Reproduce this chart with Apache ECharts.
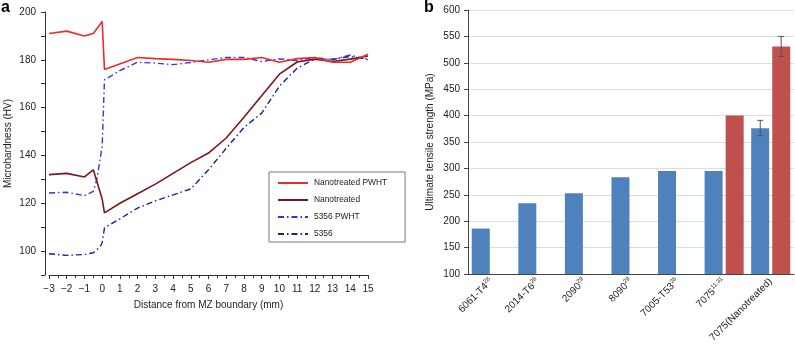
<!DOCTYPE html>
<html><head><meta charset="utf-8">
<script src="https://cdn.jsdelivr.net/npm/echarts@6/dist/echarts.min.js"></script>
<style>html,body{margin:0;padding:0;background:#fff}#c{width:795px;height:345px}</style>
</head><body><div id="c"></div>
<script>
// Panel a data: [x (mm), HV]
const ntPWHT = [[-3,191],[-2,192],[-1,190],[-0.5,191],[0,196],[0.13,176],[2,181],[3,180.5],[4,180.2],[5,179.7],[6,179],[7,180.2],[8,180.2],[9,181],[10,179],[11,180.5],[12,181],[13,179],[14,179],[15,182.3]];
const nt = [[-3,132],[-2,132.5],[-1,131],[-0.5,134],[0,121.8],[0.13,116],[1,120],[2,124],[3,128],[4,132.5],[5,137],[6,141],[7,147.3],[8,156],[9,165],[10,174],[11,179.1],[12,180.3],[13,179.3],[14,180.3],[15,181.6]];
const a5356PWHT = [[-3,124.3],[-2,124.6],[-1,123.2],[-0.5,125],[-0.3,130],[0,143.8],[0.13,171.6],[1,175.5],[2,179],[3,178.6],[4,178],[5,178.9],[6,180],[7,181],[8,181],[9,179.3],[10,180.4],[11,179.7],[12,181],[13,180],[14,182],[15,180]];
const a5356 = [[-3,98.9],[-2,98.2],[-1,98.6],[-0.5,99.3],[-0.1,102],[0,103.5],[0.13,109.7],[1,113.5],[2,118],[3,121],[4,123.5],[5,126],[6,134],[7,143],[8,151.7],[9,157.7],[10,169],[11,176.5],[12,180.3],[13,180.3],[14,181.4],[15,180.3]];
const seriesNamesA = ['Nanotreated PWHT','Nanotreated','5356 PWHT','5356'];

// Panel b data
const alloys = ['6061-T4','2014-T6','2090','8090','7005-T53','7075','7075(Nanotreated)'];
const alloySups = ['28','28','29','29','28','11,31',''];
const utsBlue = [186,234,253,283,295,295,376];
const utsRed = ['-','-','-','-','-',400,531];
const errBlue = [[6,362,391,-1]];
const errRed = [[6,512,550,1]];

const FONT = '"Liberation Sans", Arial, sans-serif';
const chart = echarts.init(document.getElementById('c'));
const dashDot = [6,3,1.5,3];
const errRender = function(params, api){
  const cat = api.value(0), lo = api.value(1), hi = api.value(2), side = api.value(3);
  const bw = api.size([1,0])[0];
  const off = side * bw * 0.225;
  const p1 = api.coord([cat, hi]), p2 = api.coord([cat, lo]);
  const x = p1[0] + off, cw = 3;
  const st = {stroke:'#555', lineWidth:1};
  return {type:'group', children:[
    {type:'line', shape:{x1:x,y1:p1[1],x2:x,y2:p2[1]}, style:st},
    {type:'line', shape:{x1:x-cw,y1:p1[1],x2:x+cw,y2:p1[1]}, style:st},
    {type:'line', shape:{x1:x-cw,y1:p2[1],x2:x+cw,y2:p2[1]}, style:st}
  ]};
};
chart.setOption({
  animation:false,
  textStyle:{fontFamily:FONT},
  graphic:[
    {type:'text', left:1, top:0, style:{text:'a', font:'bold 16px '+FONT, fill:'#000'}},
    {type:'text', left:424, top:0, style:{text:'b', font:'bold 16px '+FONT, fill:'#000'}}
  ],
  legend:{
    data:seriesNamesA, orient:'vertical', left:269, top:172,
    itemWidth:30, itemHeight:10, itemGap:9, padding:[7,18,4,8],
    borderColor:'#777', borderWidth:1,
    itemStyle:{opacity:0},
    textStyle:{fontSize:8.4, color:'#222', fontFamily:FONT, padding:[0,0,0,1]}
  },
  grid:[
    {left:49, right:427, top:12, bottom:70},
    {left:468, right:1, top:10, bottom:69}
  ],
  xAxis:[
    {gridIndex:0, type:'value', min:-3, max:15, interval:1,
     name:'Distance from MZ boundary (mm)', nameLocation:'middle', nameGap:25,
     nameTextStyle:{fontSize:10, color:'#222'},
     axisLine:{onZero:false, lineStyle:{color:'#333'}},
     axisTick:{length:4, lineStyle:{color:'#333'}},
     minorTick:{show:true, splitNumber:2, length:3, lineStyle:{color:'#333'}},
     splitLine:{show:false},
     axisLabel:{fontSize:10, color:'#222', margin:9, formatter:v=>v<0?'\u2212'+(-v):String(v)}},
    {gridIndex:1, type:'category', data:alloys,
     axisLine:{lineStyle:{color:'#444'}},
     axisTick:{length:4, lineStyle:{color:'#444'}},
     axisLabel:{rotate:45, fontSize:10, color:'#222', margin:6, interval:0,
       formatter:(v,i)=> alloySups[i] ? v+'{s|'+alloySups[i]+'}' : v,
       rich:{s:{fontSize:6, verticalAlign:'top', padding:[0,0,6,0], color:'#222'}}}}
  ],
  yAxis:[
    {gridIndex:0, type:'value', min:90, max:200, interval:10, offset:4,
     name:'Microhardness (HV)', nameLocation:'middle', nameGap:32,
     nameTextStyle:{fontSize:10, color:'#222'},
     axisLine:{show:true, onZero:false, lineStyle:{color:'#333'}},
     axisTick:{show:true, length:4, lineStyle:{color:'#333'}},
     splitLine:{show:false},
     axisLabel:{fontSize:10, color:'#222', margin:9, formatter:v=>(v>=100 && v%20===0)?String(v):''}},
    {gridIndex:1, type:'value', min:100, max:600, interval:50,
     name:'Ultimate tensile strength (MPa)', nameLocation:'middle', nameGap:33,
     nameTextStyle:{fontSize:10, color:'#222'},
     axisLine:{show:true, onZero:false, lineStyle:{color:'#444'}},
     axisTick:{show:true, length:4, lineStyle:{color:'#444'}},
     splitLine:{show:true, lineStyle:{color:'#ddd'}},
     axisLabel:{fontSize:10, color:'#222', margin:8}}
  ],
  series:[
    {name:seriesNamesA[0], type:'line', xAxisIndex:0, yAxisIndex:0, data:ntPWHT, symbol:'none',
     lineStyle:{color:'#ee2b2b', width:1.6}, itemStyle:{color:'#ee2b2b'}, z:4},
    {name:seriesNamesA[1], type:'line', xAxisIndex:0, yAxisIndex:0, data:nt, symbol:'none',
     lineStyle:{color:'#7d1518', width:1.6}, itemStyle:{color:'#7d1518'}, z:3},
    {name:seriesNamesA[2], type:'line', xAxisIndex:0, yAxisIndex:0, data:a5356PWHT, symbol:'none',
     lineStyle:{color:'#3535e0', width:1.4, type:dashDot}, itemStyle:{color:'#3535e0'}, z:2},
    {name:seriesNamesA[3], type:'line', xAxisIndex:0, yAxisIndex:0, data:a5356, symbol:'none',
     lineStyle:{color:'#1d1d9c', width:1.4, type:dashDot}, itemStyle:{color:'#1d1d9c'}, z:2},
    {name:'blue', type:'bar', xAxisIndex:1, yAxisIndex:1, data:utsBlue, barWidth:18, barGap:'17%',
     itemStyle:{color:'#4f81bd'}},
    {name:'red', type:'bar', xAxisIndex:1, yAxisIndex:1, data:utsRed, barWidth:18, barGap:'17%',
     itemStyle:{color:'#c0504d'}},
    {type:'custom', xAxisIndex:1, yAxisIndex:1, data:errBlue, renderItem:errRender, z:5},
    {type:'custom', xAxisIndex:1, yAxisIndex:1, data:errRed, renderItem:errRender, z:5}
  ]
});
</script></body></html>
